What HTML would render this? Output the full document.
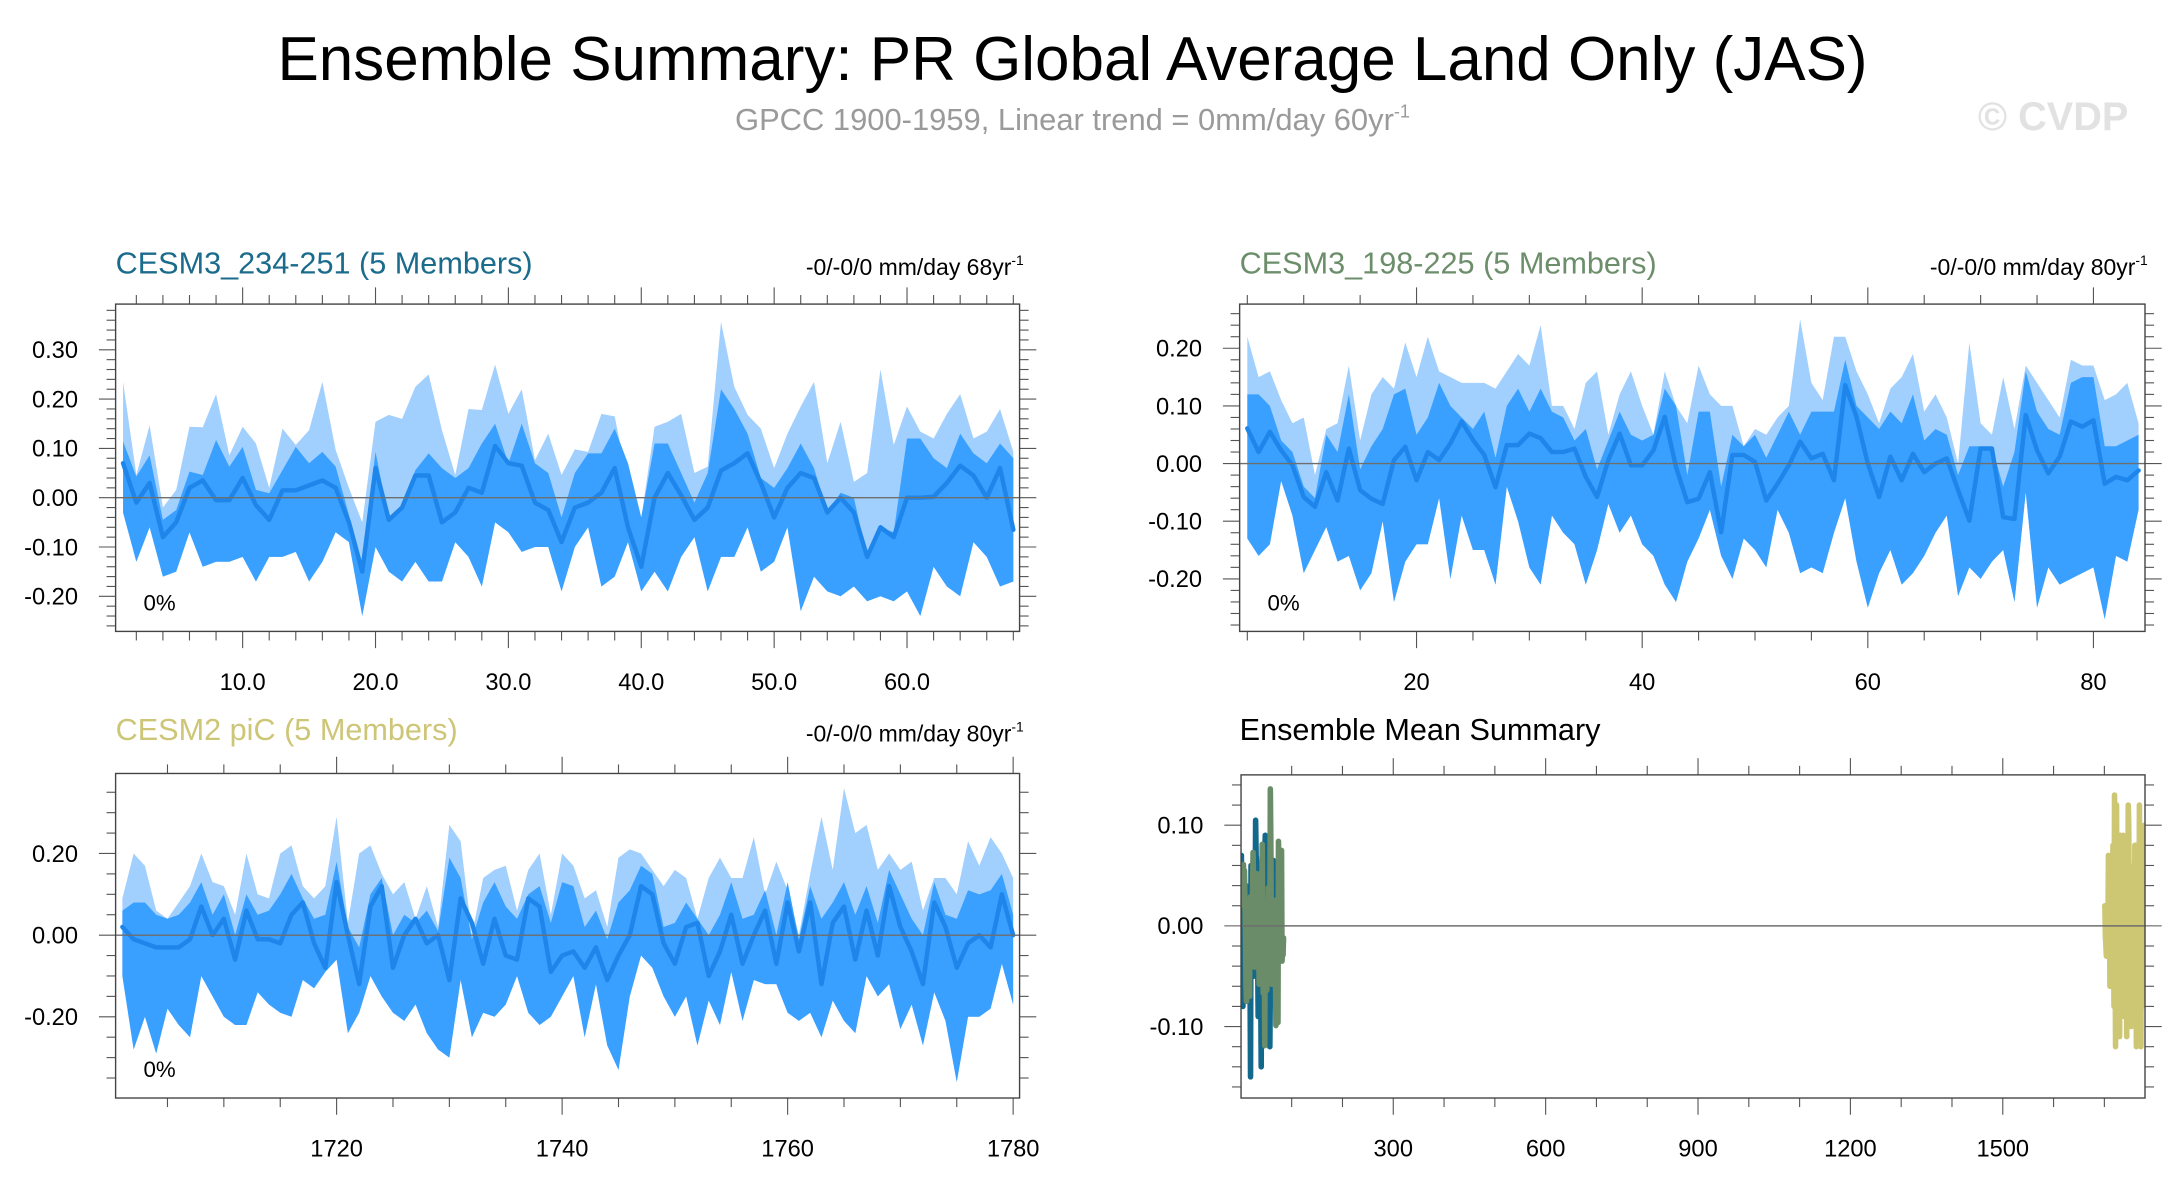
<!DOCTYPE html>
<html><head><meta charset="utf-8"><style>
html,body{margin:0;padding:0;background:#fff;}
svg{display:block;font-family:"Liberation Sans",Arial,sans-serif;}
</style></head><body>
<svg id="chart" width="2184" height="1189" viewBox="0 0 1568 853" xmlns="http://www.w3.org/2000/svg">
<text x="770" y="57" font-size="44.5" text-anchor="middle" fill="#000">Ensemble Summary: PR Global Average Land Only (JAS)</text>
<text x="770" y="93" font-size="22.2" text-anchor="middle" fill="#9a9a9a">GPCC 1900-1959, Linear trend = 0mm/day 60yr<tspan font-size="13" dy="-9">-1</tspan></text>
<text x="1420" y="93" font-size="28.5" font-weight="bold" fill="#e2e2e2">© CVDP</text>

<text x="83" y="196" font-size="22" fill="#1a6b8c">CESM3_234-251 (5 Members)</text>
<text x="735" y="197" font-size="16.5" text-anchor="end" fill="#000">-0/-0/0 mm/day 68yr<tspan font-size="10" dy="-7">-1</tspan></text>
<text x="890" y="196" font-size="22" fill="#6c8e6b">CESM3_198-225 (5 Members)</text>
<text x="1542" y="197" font-size="16.5" text-anchor="end" fill="#000">-0/-0/0 mm/day 80yr<tspan font-size="10" dy="-7">-1</tspan></text>
<text x="83" y="531" font-size="22" fill="#cdc677">CESM2 piC (5 Members)</text>
<text x="735" y="532" font-size="16.5" text-anchor="end" fill="#000">-0/-0/0 mm/day 80yr<tspan font-size="10" dy="-7">-1</tspan></text>
<text x="890" y="531" font-size="22" fill="#000">Ensemble Mean Summary</text>
</svg>
<script>
// ---- Panel 1: CESM3_234-251, years 1..68 ----
const p1Start = 1;
const p1Mean = [0.07,-0.01,0.03,-0.08,-0.05,0.02,0.035,-0.005,-0.005,0.04,
-0.015,-0.045,0.015,0.015,0.025,0.035,0.02,-0.05,-0.15,0.06,
-0.045,-0.02,0.045,0.045,-0.05,-0.03,0.02,0.01,0.105,0.07,
0.065,-0.01,-0.025,-0.09,-0.02,-0.01,0.01,0.06,-0.06,-0.14,
0.0,0.05,0.005,-0.045,-0.02,0.055,0.07,0.09,0.03,-0.04,
0.02,0.05,0.04,-0.03,0.0,-0.03,-0.12,-0.06,-0.08,0.0,
0.0,0.002,0.03,0.065,0.045,0.0,0.06,-0.065];
const p1Max = [0.235,0.046,0.147,-0.02,0.016,0.144,0.143,0.21,0.086,0.144,
0.11,0.02,0.14,0.107,0.137,0.235,0.097,0.02,-0.05,0.154,
0.168,0.16,0.225,0.25,0.137,0.046,0.18,0.178,0.27,0.17,
0.22,0.076,0.13,0.046,0.098,0.093,0.17,0.165,0.03,-0.04,
0.144,0.154,0.17,0.05,0.063,0.357,0.225,0.168,0.14,0.06,
0.13,0.185,0.235,0.07,0.154,0.032,0.05,0.26,0.107,0.185,
0.134,0.12,0.17,0.21,0.12,0.134,0.18,0.093];
const p1Upper = [0.114,0.043,0.086,-0.045,-0.025,0.053,0.046,0.117,0.063,0.103,
0.016,0.009,0.056,0.103,0.07,0.093,0.063,-0.035,-0.133,0.093,
-0.045,-0.015,0.056,0.09,0.06,0.04,0.06,0.11,0.15,0.07,
0.15,0.07,0.05,-0.04,0.05,0.09,0.09,0.14,0.07,-0.04,
0.11,0.11,0.05,-0.01,0.05,0.22,0.18,0.13,0.04,0.02,
0.06,0.11,0.06,-0.03,0.01,0.0,-0.12,-0.06,-0.07,0.12,
0.12,0.08,0.06,0.13,0.09,0.07,0.11,0.08];
const p1Min = [-0.03,-0.13,-0.06,-0.16,-0.15,-0.07,-0.14,-0.13,-0.13,-0.12,
-0.17,-0.12,-0.12,-0.11,-0.17,-0.13,-0.07,-0.09,-0.24,-0.1,
-0.15,-0.17,-0.13,-0.17,-0.17,-0.09,-0.12,-0.18,-0.05,-0.07,
-0.11,-0.10,-0.1,-0.19,-0.10,-0.06,-0.18,-0.16,-0.09,-0.19,
-0.15,-0.19,-0.12,-0.08,-0.19,-0.12,-0.12,-0.06,-0.15,-0.13,
-0.06,-0.23,-0.16,-0.19,-0.20,-0.18,-0.21,-0.20,-0.21,-0.19,
-0.24,-0.14,-0.18,-0.2,-0.09,-0.12,-0.18,-0.17];
const p1XTicks = [10,20,30,40,50,60];
const p1XLabels = ["10.0","20.0","30.0","40.0","50.0","60.0"];
const p1YTicks = [0.3,0.2,0.1,0,-0.1,-0.2];
const p1YLabels = ["0.30","0.20","0.10","0.00","-0.10","-0.20"];

// ---- Panel 2: CESM3_198-225, years 5..84 ----
const p2Start = 5;
const p2Mean = [0.061,0.020,0.055,0.023,-0.003,-0.058,-0.075,-0.015,-0.064,0.026,
-0.046,-0.061,-0.070,0.006,0.029,-0.029,0.020,0.006,0.035,0.073,
0.041,0.015,-0.041,0.032,0.032,0.052,0.044,0.020,0.020,0.026,
-0.023,-0.058,0.006,0.052,-0.003,-0.003,0.023,0.081,-0.006,-0.067,
-0.061,-0.015,-0.119,0.015,0.015,0.003,-0.064,-0.035,-0.003,0.038,
0.009,0.017,-0.029,0.136,0.081,0,-0.058,0.012,-0.029,0.017,
-0.015,0,0.009,-0.046,-0.099,0.026,0.026,-0.093,-0.096,0.084,
0.023,-0.017,0.012,0.073,0.064,0.075,-0.035,-0.023,-0.029,-0.012];
const p2Max = [0.22,0.15,0.16,0.11,0.07,0.08,-0.02,0.06,0.07,0.17,
0.04,0.12,0.15,0.13,0.21,0.15,0.22,0.16,0.15,0.14,
0.14,0.14,0.13,0.16,0.19,0.17,0.24,0.10,0.10,0.06,
0.14,0.16,0.05,0.12,0.16,0.10,0.05,0.16,0.10,0.07,
0.17,0.12,0.10,0.10,0.03,0.06,0.05,0.08,0.10,0.25,
0.14,0.11,0.22,0.22,0.16,0.12,0.07,0.13,0.15,0.19,
0.09,0.12,0.08,0.0,0.21,0.07,0.05,0.15,0.06,0.17,
0.14,0.11,0.08,0.18,0.17,0.17,0.11,0.12,0.14,0.07];
const p2Upper = [0.12,0.12,0.10,0.04,0.02,-0.04,-0.06,0.05,0.02,0.12,
-0.01,0.03,0.06,0.12,0.13,0.05,0.08,0.14,0.10,0.08,
0.06,0.09,0.01,0.10,0.13,0.09,0.13,0.09,0.08,0.04,
0.06,-0.01,0.04,0.09,0.05,0.04,0.05,0.13,0.10,-0.02,
0.09,0.09,-0.04,0.05,0.03,0.05,0.01,0.05,0.09,0.05,
0.09,0.09,0.09,0.18,0.10,0.08,0.06,0.09,0.07,0.12,
0.04,0.06,0.05,-0.02,0.03,0.03,0.03,-0.04,0.02,0.16,
0.09,0.06,0.05,0.14,0.15,0.15,0.03,0.03,0.04,0.05];
const p2Min = [-0.13,-0.16,-0.14,-0.03,-0.09,-0.19,-0.15,-0.11,-0.17,-0.16,
-0.22,-0.19,-0.10,-0.24,-0.17,-0.14,-0.14,-0.06,-0.20,-0.09,
-0.15,-0.15,-0.21,-0.04,-0.10,-0.18,-0.21,-0.09,-0.12,-0.14,
-0.21,-0.15,-0.07,-0.12,-0.09,-0.14,-0.16,-0.21,-0.24,-0.17,
-0.13,-0.08,-0.16,-0.20,-0.13,-0.15,-0.18,-0.08,-0.12,-0.19,
-0.18,-0.19,-0.12,-0.06,-0.17,-0.25,-0.19,-0.15,-0.21,-0.19,
-0.16,-0.12,-0.09,-0.23,-0.18,-0.20,-0.17,-0.15,-0.24,-0.05,
-0.25,-0.18,-0.21,-0.2,-0.19,-0.18,-0.27,-0.16,-0.17,-0.08];
const p2XTicks = [20,40,60,80];
const p2XLabels = ["20","40","60","80"];
const p2YTicks = [0.2,0.1,0,-0.1,-0.2];
const p2YLabels = ["0.20","0.10","0.00","-0.10","-0.20"];

// ---- Panel 3: CESM2 piC, years 1701..1780 ----
const p3Start = 1701;
const p3Mean = [0.02,-0.01,-0.02,-0.03,-0.03,-0.03,-0.01,0.07,0.0,0.04,
-0.06,0.06,-0.01,-0.01,-0.02,0.05,0.08,-0.02,-0.08,0.13,
0.0,-0.12,0.07,0.12,-0.08,0.0,0.04,-0.02,0.0,-0.11,
0.09,0.03,-0.07,0.04,-0.05,-0.06,0.09,0.07,-0.09,-0.05,
-0.04,-0.08,-0.03,-0.11,-0.05,0.0,0.12,0.1,-0.02,-0.07,
0.02,0.03,-0.1,-0.04,0.05,-0.07,0.0,0.06,-0.07,0.08,
-0.04,0.08,-0.12,0.03,0.07,-0.06,0.06,-0.05,0.12,0.02,
-0.04,-0.12,0.08,0.02,-0.08,-0.02,0.0,-0.03,0.1,0.0];
const p3Max = [0.09,0.2,0.17,0.06,0.04,0.08,0.12,0.2,0.13,0.12,
0.05,0.2,0.1,0.09,0.2,0.22,0.12,0.09,0.12,0.29,
0.03,0.2,0.22,0.15,0.1,0.13,0.04,0.12,0.02,0.27,
0.23,0.0,0.14,0.16,0.17,0.06,0.16,0.2,0.05,0.2,
0.17,0.09,0.11,0.02,0.19,0.21,0.2,0.16,0.12,0.16,
0.14,0.04,0.14,0.19,0.14,0.14,0.24,0.1,0.18,0.11,
0.0,0.15,0.29,0.16,0.36,0.25,0.27,0.16,0.2,0.16,
0.18,0.06,0.14,0.14,0.1,0.23,0.17,0.24,0.2,0.14];
const p3Upper = [0.06,0.08,0.08,0.05,0.04,0.05,0.08,0.13,0.05,0.1,
0.0,0.1,0.05,0.06,0.1,0.15,0.09,0.04,0.05,0.18,
0.02,-0.03,0.1,0.14,0.0,0.05,0.03,0.06,0.01,0.19,
0.14,-0.01,0.08,0.13,0.07,0.04,0.1,0.12,0.03,0.13,
0.12,0.02,0.06,-0.01,0.08,0.11,0.17,0.15,0.02,0.03,
0.08,0.04,0.0,0.05,0.13,0.04,0.05,0.11,0.0,0.13,
-0.01,0.12,0.04,0.08,0.13,0.05,0.12,0.03,0.16,0.1,
0.04,0.0,0.13,0.05,0.04,0.11,0.1,0.11,0.15,0.05];
const p3Min = [-0.1,-0.28,-0.2,-0.29,-0.18,-0.22,-0.25,-0.1,-0.15,-0.2,
-0.22,-0.22,-0.14,-0.17,-0.19,-0.2,-0.11,-0.13,-0.09,-0.06,
-0.24,-0.19,-0.1,-0.15,-0.19,-0.21,-0.17,-0.24,-0.28,-0.3,
-0.11,-0.25,-0.19,-0.2,-0.17,-0.1,-0.19,-0.22,-0.2,-0.15,
-0.1,-0.25,-0.12,-0.27,-0.33,-0.15,-0.05,-0.08,-0.15,-0.2,
-0.15,-0.27,-0.16,-0.22,-0.09,-0.21,-0.11,-0.12,-0.12,-0.19,
-0.21,-0.19,-0.25,-0.16,-0.21,-0.24,-0.1,-0.15,-0.12,-0.23,
-0.17,-0.27,-0.14,-0.21,-0.36,-0.2,-0.2,-0.18,-0.07,-0.17];
const p3XTicks = [1720,1740,1760,1780];
const p3XLabels = ["1720","1740","1760","1780"];
const p3YTicks = [0.2,0,-0.2];
const p3YLabels = ["0.20","0.00","-0.20"];

// ---- Panel 4 axes ----
const p4XTicks = [300,600,900,1200,1500];
const p4XLabels = ["300","600","900","1200","1500"];
const p4YTicks = [0.1,0,-0.1];
const p4YLabels = ["0.10","0.00","-0.10"];

const NS = "http://www.w3.org/2000/svg";
const svg = document.getElementById('chart');
function mk(tag, attrs, parent){
  const e = document.createElementNS(NS, tag);
  for (const k in attrs) e.setAttribute(k, attrs[k]);
  (parent||svg).appendChild(e);
  return e;
}

function drawPanel(cfg){
  const g = mk('g', {});
  
  
  const L=cfg.box[0], T=cfg.box[1], R=cfg.box[2], B=cfg.box[3];
  const sx = v => L + (v - cfg.xd[0]) / (cfg.xd[1]-cfg.xd[0]) * (R-L);
  const sy = v => B - (v - cfg.yd[0]) / (cfg.yd[1]-cfg.yd[0]) * (B-T);
  const cp = 'clip-' + cfg.name;
  const defs = mk('defs', {}, g);
  const c = mk('clipPath', {id: cp}, defs);
  mk('rect', {x:L, y:T, width:R-L, height:B-T}, c);
  const plot = mk('g', {'clip-path': 'url(#' + cp + ')'}, g);
  cfg.draw(plot, sx, sy);
  const z = mk('line', {x1:L, x2:R, y1:sy(0), y2:sy(0), stroke:'#6e6e6e', 'stroke-width':1}, g);
  
  
  const tk = mk('g', {stroke:'#555', 'stroke-width':0.8}, g);
  const eps = 1e-9;
  for (let v = Math.ceil(cfg.xd[0]/cfg.xMinor)*cfg.xMinor; v <= cfg.xd[1]+eps; v += cfg.xMinor){
    const x = sx(v);
    const major = cfg.xTicks.some(t => Math.abs(t - v) < 1e-6);
    const len = major ? 12 : 6.5;
    mk('line', {x1:x, x2:x, y1:B, y2:B+len}, tk);
    mk('line', {x1:x, x2:x, y1:T, y2:T-len}, tk);
  }
  for (let i = Math.ceil(cfg.yd[0]/cfg.yMinor - eps); i*cfg.yMinor <= cfg.yd[1]+eps; i++){
    const v = i*cfg.yMinor;
    const y = sy(v);
    const major = cfg.yTicks.some(t => Math.abs(t - v) < 1e-6);
    const len = major ? 12 : 6.5;
    mk('line', {x1:L, x2:L-len, y1:y, y2:y}, tk);
    mk('line', {x1:R, x2:R+len, y1:y, y2:y}, tk);
  }
  const fr = mk('rect', {x:L, y:T, width:R-L, height:B-T, fill:'none', stroke:'#444', 'stroke-width':1}, g);
  
  
  cfg.xTicks.forEach((t, i) => {
    const e = mk('text', {x:sx(t), y:B+42, 'font-size':17, 'text-anchor':'middle', fill:'#000'}, g);
    
    
    e.textContent = cfg.xLabels[i];
  });
  cfg.yTicks.forEach((t, i) => {
    const e = mk('text', {x:L-27, y:sy(t)+6, 'font-size':17, 'text-anchor':'end', fill:'#000'}, g);
    
    
    e.textContent = cfg.yLabels[i];
  });
}

function bandPanel(start, mean, mx, up, mn){
  return function(plot, sx, sy){
    const xs = mean.map((_, i) => sx(start + i));
    const poly = (top, bot) => top.map((v,i)=>xs[i]+','+sy(v)).join(' ') + ' ' +
      bot.map((v,i)=>xs[i]+','+sy(v)).reverse().join(' ');
    const a = mk('polygon', {points: poly(mx, mn), fill:'#a1d0ff'}, plot);
    
    
    const b = mk('polygon', {points: poly(up, mn), fill:'#3aa0ff'}, plot);
    
    
    const l = mk('polyline', {points: mean.map((v,i)=>xs[i]+','+sy(v)).join(' '), fill:'none', stroke:'#1e86ea', 'stroke-width':3.2, 'stroke-linejoin':'round', 'stroke-linecap':'round'}, plot);
    
    
  };
}
function pctLabel(x, y){
  const e = mk('text', {x:x, y:y, 'font-size':16, fill:'#000'});
  
  
  e.textContent = '0%';
}

drawPanel({name:'panel-cesm3-234-251', box:[83,218,732,453], xd:[0.44,68.47], yd:[-0.2712,0.3927],
  xTicks:p1XTicks, xLabels:p1XLabels, xMinor:2, yTicks:p1YTicks, yLabels:p1YLabels, yMinor:0.02,
  draw: bandPanel(p1Start, p1Mean, p1Max, p1Upper, p1Min)});
pctLabel(103, 438);

drawPanel({name:'panel-cesm3-198-225', box:[890,218,1540,453], xd:[4.32,84.57], yd:[-0.2911,0.2766],
  xTicks:p2XTicks, xLabels:p2XLabels, xMinor:5, yTicks:p2YTicks, yLabels:p2YLabels, yMinor:0.02,
  draw: bandPanel(p2Start, p2Mean, p2Max, p2Upper, p2Min)});
pctLabel(910, 438);

drawPanel({name:'panel-cesm2-pic', box:[83,555,732,788], xd:[1700.4,1780.57], yd:[-0.399,0.396],
  xTicks:p3XTicks, xLabels:p3XLabels, xMinor:5, yTicks:p3YTicks, yLabels:p3YLabels, yMinor:0.05,
  draw: bandPanel(p3Start, p3Mean, p3Max, p3Upper, p3Min)});
pctLabel(103, 773);

drawPanel({name:'panel-ensemble-mean-summary', box:[891,556,1540,788], xd:[0.3,1780], yd:[-0.171,0.150],
  xTicks:p4XTicks, xLabels:p4XLabels, xMinor:100, yTicks:p4YTicks, yLabels:p4YLabels, yMinor:0.02,
  draw: function(plot, sx, sy){
    const series = [[p1Start, p1Mean, '#13698c', 'mean-line-cesm3-234-251'],
                    [p2Start, p2Mean, '#6a8c69', 'mean-line-cesm3-198-225'],
                    [p3Start, p3Mean, '#cdc673', 'mean-line-cesm2-pic']];
    series.forEach(s => {
      const l = mk('polyline', {points: s[1].map((v,i)=>sx(s[0]+i)+','+sy(v)).join(' '), fill:'none', stroke:s[2], 'stroke-width':4, 'stroke-linejoin':'round', 'stroke-linecap':'round'}, plot);
      
      
    });
  }});
</script>
</body></html>
